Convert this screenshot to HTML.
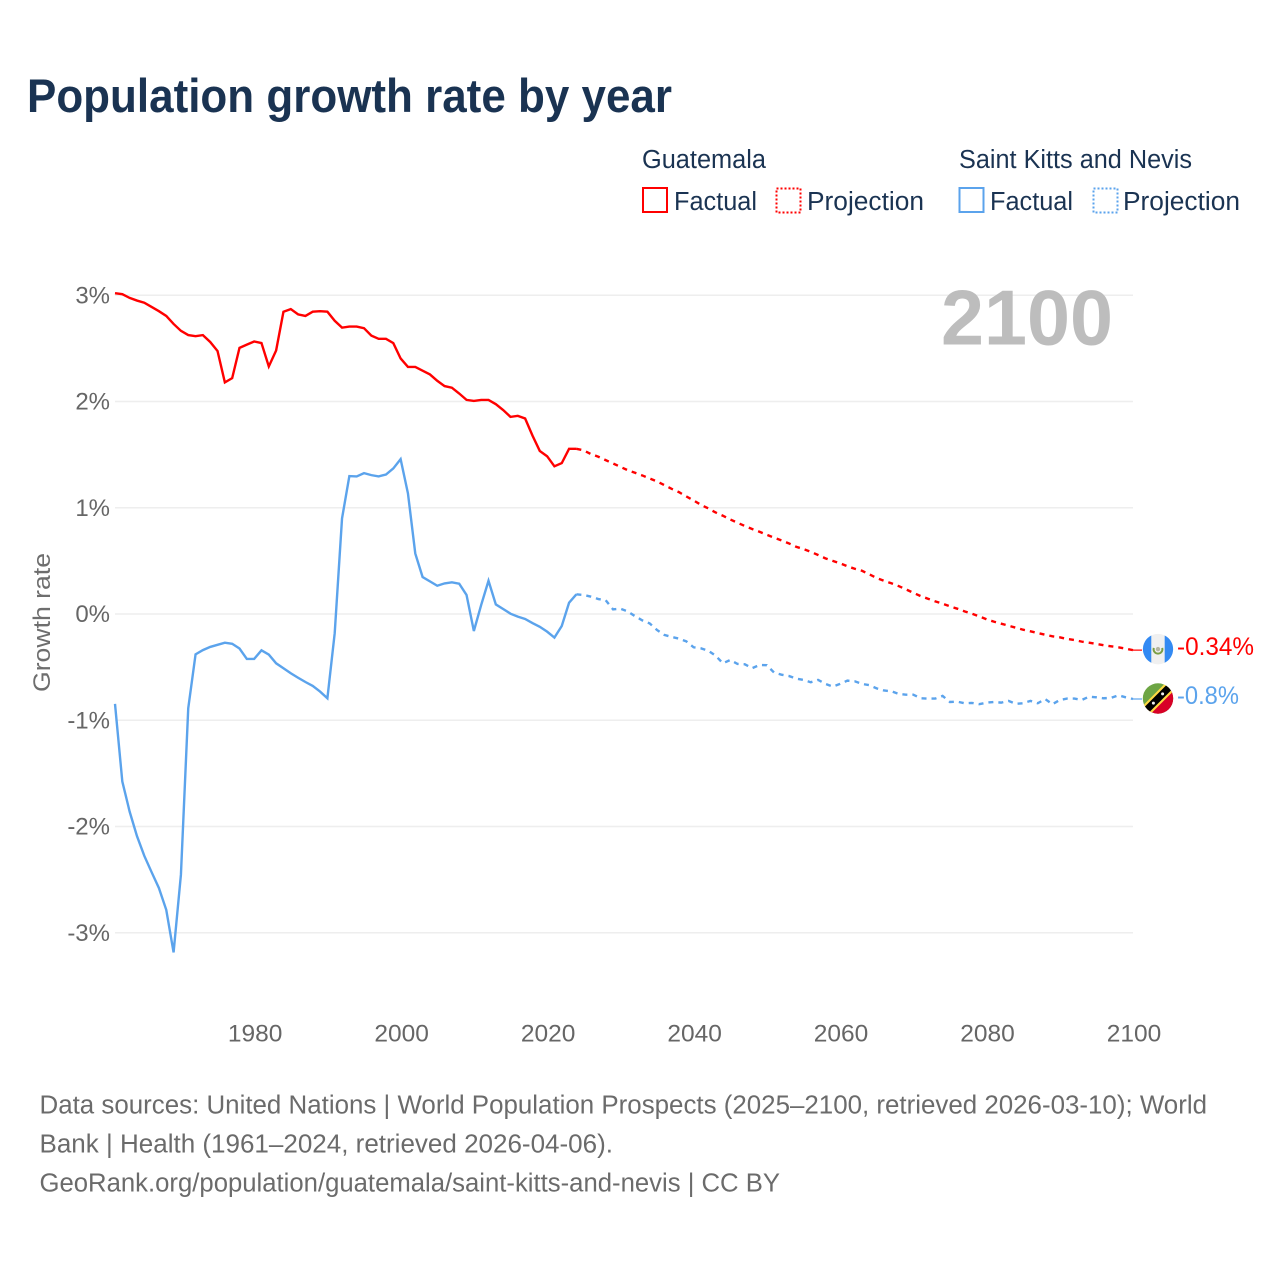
<!DOCTYPE html>
<html lang="en">
<head>
<meta charset="utf-8">
<title>Population growth rate by year</title>
<style>
  html, body { margin: 0; padding: 0; background: #fff; }
  svg { display: block; font-family: "Liberation Sans", sans-serif; }
</style>
</head>
<body>
<svg id="chart" xmlns="http://www.w3.org/2000/svg" width="1280" height="1280" viewBox="0 0 1280 1280">
  <rect x="0" y="0" width="1280" height="1280" fill="#ffffff"/>

  <text x="27" y="112" font-size="47" font-weight="bold" fill="#1a3352" textLength="645" lengthAdjust="spacingAndGlyphs">Population growth rate by year</text>

  <g font-size="25.5" fill="#1a3352">
    <text x="642" y="168" textLength="124" lengthAdjust="spacingAndGlyphs">Guatemala</text>
    <text x="959" y="168" textLength="233" lengthAdjust="spacingAndGlyphs">Saint Kitts and Nevis</text>

    <rect x="643" y="188" width="24" height="24" fill="none" stroke="#ff0000" stroke-width="2"/>
    <text x="674" y="210" textLength="83" lengthAdjust="spacingAndGlyphs">Factual</text>
    <rect x="776.5" y="188.5" width="24" height="24" fill="none" stroke="#ff0000" stroke-width="2" stroke-dasharray="2 2"/>
    <text x="807" y="210" textLength="117" lengthAdjust="spacingAndGlyphs">Projection</text>

    <rect x="959.5" y="188" width="24" height="24" fill="none" stroke="#5ba3ec" stroke-width="2"/>
    <text x="990" y="210" textLength="83" lengthAdjust="spacingAndGlyphs">Factual</text>
    <rect x="1093.5" y="188.5" width="24" height="24" fill="none" stroke="#5ba3ec" stroke-width="2" stroke-dasharray="2 2"/>
    <text x="1123" y="210" textLength="117" lengthAdjust="spacingAndGlyphs">Projection</text>
  </g>

  <g id="grid"></g>

  <text x="941" y="344.5" font-size="78" font-weight="bold" fill="#bdbdbd" textLength="172" lengthAdjust="spacingAndGlyphs">2100</text>

  <g id="y-axis"></g>
  <g id="x-axis"></g>
  <text transform="translate(50,622.5) rotate(-90)" text-anchor="middle" font-size="24.5" fill="#6e6e6e" textLength="139" lengthAdjust="spacingAndGlyphs">Growth rate</text>

  <g id="series"></g>

  <g id="flag-guatemala">
    <circle r="15.2" fill="#f0f0f0"/>
    <path d="M-6.7,-13.6 A15.2,15.2 0 0 0 -6.7,13.6 Z" fill="#338af3"/>
    <path d="M6.7,-13.6 A15.2,15.2 0 0 1 6.7,13.6 Z" fill="#338af3"/>
    <path d="M-4.2,-1.2 A4.4,4.4 0 1 0 4.2,-1.2" fill="none" stroke="#7a9e45" stroke-width="2"/>
    <circle cx="0" cy="0" r="2.2" fill="#b5b5a0"/>
  </g>

  <g id="flag-saint-kitts">
    <clipPath id="kn-clip"><circle r="15.2"/></clipPath>
    <g clip-path="url(#kn-clip)">
      <rect x="-16" y="-16" width="32" height="32" fill="#6da544"/>
      <path d="M16,-16 L16,16 L-16,16 Z" fill="#d80027"/>
      <path d="M-16,8 L8,-16 L16,-16 L16,-8 L-8,16 L-16,16 Z" fill="#ffda44"/>
      <path d="M-16,11 L11,-16 L16,-16 L16,-11 L-11,16 L-16,16 Z" fill="#000000"/>
      <circle cx="-4.6" cy="4.6" r="1.5" fill="#f0f0f0"/>
      <circle cx="4.6" cy="-4.6" r="1.5" fill="#f0f0f0"/>
    </g>
  </g>

  <g id="end-labels"></g>

  <g font-size="25.5" fill="#6b6b6b">
    <text x="39.5" y="1113.5" textLength="1167.5" lengthAdjust="spacingAndGlyphs">Data sources: United Nations | World Population Prospects (2025–2100, retrieved 2026-03-10); World</text>
    <text x="39.5" y="1152.5" textLength="573.5" lengthAdjust="spacingAndGlyphs">Bank | Health (1961–2024, retrieved 2026-04-06).</text>
    <text x="39.5" y="1191.5" textLength="740.5" lengthAdjust="spacingAndGlyphs">GeoRank.org/population/guatemala/saint-kitts-and-nevis | CC BY</text>
  </g>
</svg>

<script>
const firstYear = 1961;
const lastFactualYear = 2024;
const xTicks = [1980, 2000, 2020, 2040, 2060, 2080, 2100];
const yTicks = [3, 2, 1, 0, -1, -2, -3];
const yTickLabels = ['3%', '2%', '1%', '0%', '-1%', '-2%', '-3%'];
const endLabelGuatemala = '-0.34%';
const endLabelSaintKitts = '-0.8%';

const guatemalaFactual = [
  3.02, 3.01, 2.975, 2.95, 2.93, 2.89, 2.85, 2.805, 2.73, 2.665,
  2.625, 2.615, 2.625, 2.56, 2.475, 2.18, 2.22, 2.505, 2.535, 2.565,
  2.55, 2.33, 2.48, 2.845, 2.87, 2.82, 2.805, 2.845, 2.85, 2.845,
  2.76, 2.695, 2.705, 2.705, 2.69, 2.62, 2.59, 2.59, 2.55, 2.405,
  2.325, 2.325, 2.29, 2.255, 2.195, 2.145, 2.13, 2.075, 2.015, 2.005,
  2.015, 2.015, 1.975, 1.92, 1.855, 1.865, 1.84, 1.68, 1.535, 1.485,
  1.39, 1.42, 1.555, 1.555
];
const guatemalaProjection = [
  1.54, 1.505, 1.48, 1.448, 1.417, 1.385, 1.354, 1.329, 1.304, 1.276,
  1.248, 1.213, 1.178, 1.147, 1.107, 1.069, 1.028, 0.994, 0.956, 0.925,
  0.89, 0.859, 0.828, 0.8, 0.774, 0.746, 0.718, 0.693, 0.665, 0.633,
  0.611, 0.586, 0.555, 0.524, 0.5, 0.477, 0.449, 0.426, 0.407, 0.373,
  0.339, 0.313, 0.289, 0.263, 0.232, 0.2, 0.169, 0.144, 0.119, 0.097,
  0.072, 0.05, 0.025, 0.003, -0.022, -0.05, -0.072, -0.091, -0.11, -0.129,
  -0.148, -0.163, -0.179, -0.195, -0.21, -0.219, -0.235, -0.245, -0.26, -0.27,
  -0.282, -0.294, -0.304, -0.313, -0.326, -0.34
];
const saintKittsFactual = [
  -0.846, -1.577, -1.86, -2.09, -2.276, -2.43, -2.58, -2.785, -3.185, -2.455,
  -0.887, -0.38, -0.34, -0.31, -0.29, -0.27, -0.28, -0.325, -0.423, -0.423,
  -0.342, -0.382, -0.464, -0.51, -0.558, -0.6, -0.64, -0.677, -0.73, -0.793,
  -0.18, 0.9, 1.298, 1.295, 1.326, 1.307, 1.295, 1.313, 1.37, 1.458,
  1.135, 0.57, 0.348, 0.307, 0.266, 0.288, 0.298, 0.285, 0.179, -0.16,
  0.085, 0.313, 0.09, 0.047, 0.003, -0.025, -0.047, -0.085, -0.12, -0.166,
  -0.222, -0.113, 0.106, 0.185
];
const saintKittsProjection = [
  0.179, 0.163, 0.141, 0.13, 0.044, 0.05, 0.025, -0.02, -0.06, -0.088,
  -0.15, -0.197, -0.216, -0.232, -0.257, -0.313, -0.323, -0.345, -0.392, -0.464,
  -0.433, -0.47, -0.473, -0.51, -0.48, -0.482, -0.552, -0.571, -0.583, -0.608,
  -0.62, -0.642, -0.62, -0.658, -0.683, -0.658, -0.627, -0.633, -0.658, -0.67,
  -0.7, -0.72, -0.727, -0.752, -0.759, -0.759, -0.793, -0.796, -0.796, -0.771,
  -0.828, -0.825, -0.84, -0.837, -0.849, -0.834, -0.828, -0.834, -0.818, -0.846,
  -0.84, -0.818, -0.84, -0.8, -0.849, -0.809, -0.796, -0.796, -0.809, -0.778,
  -0.784, -0.793, -0.79, -0.765, -0.784, -0.8
];

const NS = 'http://www.w3.org/2000/svg';
const xScale = function (year) { return 115 + (year - firstYear) * 7.3237; };
const yScale = function (value) { return 614 - value * 106.25; };

function make(tag, parent) {
  const el = document.createElementNS(NS, tag);
  parent.appendChild(el);
  return el;
}

function pointsFor(values, startYear) {
  return values.map(function (v, i) {
    return xScale(startYear + i).toFixed(2) + ',' + yScale(v).toFixed(2);
  }).join(' ');
}

const gridGroup = document.getElementById('grid');
const yAxisGroup = document.getElementById('y-axis');
yTicks.forEach(function (t, i) {
  const line = make('line', gridGroup);
  
  
  line.setAttribute('x1', xScale(firstYear));
  line.setAttribute('x2', xScale(2100));
  line.setAttribute('y1', yScale(t));
  line.setAttribute('y2', yScale(t));
  line.setAttribute('stroke', '#eeeeee');
  line.setAttribute('stroke-width', '1.5');

  const label = make('text', yAxisGroup);
  
  
  label.setAttribute('x', 110);
  label.setAttribute('y', yScale(t) + 8);
  label.setAttribute('text-anchor', 'end');
  label.setAttribute('font-size', '24');
  label.setAttribute('fill', '#666666');
  label.textContent = yTickLabels[i];
});

const xAxisGroup = document.getElementById('x-axis');
xTicks.forEach(function (t) {
  const label = make('text', xAxisGroup);
  
  
  label.setAttribute('x', xScale(t) + 1);
  label.setAttribute('y', 1041.5);
  label.setAttribute('text-anchor', 'middle');
  label.setAttribute('font-size', '24.5');
  label.setAttribute('fill', '#666666');
  label.textContent = String(t);
});

const seriesGroup = document.getElementById('series');

const redFactualLine = make('polyline', seriesGroup);


redFactualLine.setAttribute('points', pointsFor(guatemalaFactual, firstYear));
redFactualLine.setAttribute('fill', 'none');
redFactualLine.setAttribute('stroke', '#ff0000');
redFactualLine.setAttribute('stroke-width', '2.4');

const redProjectionValues = [guatemalaFactual[guatemalaFactual.length - 1]].concat(guatemalaProjection);
const redProjectionLine = make('polyline', seriesGroup);


redProjectionLine.setAttribute('points', pointsFor(redProjectionValues, lastFactualYear));
redProjectionLine.setAttribute('fill', 'none');
redProjectionLine.setAttribute('stroke', '#ff0000');
redProjectionLine.setAttribute('stroke-width', '2.4');
redProjectionLine.setAttribute('stroke-dasharray', '5 5');

const blueFactualLine = make('polyline', seriesGroup);


blueFactualLine.setAttribute('points', pointsFor(saintKittsFactual, firstYear));
blueFactualLine.setAttribute('fill', 'none');
blueFactualLine.setAttribute('stroke', '#5ba3ec');
blueFactualLine.setAttribute('stroke-width', '2.4');

const blueProjectionValues = [saintKittsFactual[saintKittsFactual.length - 1]].concat(saintKittsProjection);
const blueProjectionLine = make('polyline', seriesGroup);


blueProjectionLine.setAttribute('points', pointsFor(blueProjectionValues, lastFactualYear));
blueProjectionLine.setAttribute('fill', 'none');
blueProjectionLine.setAttribute('stroke', '#5ba3ec');
blueProjectionLine.setAttribute('stroke-width', '2.4');
blueProjectionLine.setAttribute('stroke-dasharray', '5 5');

const redEndY = yScale(guatemalaProjection[guatemalaProjection.length - 1]);
const blueEndY = yScale(saintKittsProjection[saintKittsProjection.length - 1]);
const endX = xScale(2100);

const redConnector = make('line', seriesGroup);


redConnector.setAttribute('x1', endX);
redConnector.setAttribute('x2', endX + 9);
redConnector.setAttribute('y1', redEndY);
redConnector.setAttribute('y2', redEndY);
redConnector.setAttribute('stroke', '#ff0000');
redConnector.setAttribute('stroke-width', '1.2');

const blueConnector = make('line', seriesGroup);


blueConnector.setAttribute('x1', endX);
blueConnector.setAttribute('x2', endX + 9);
blueConnector.setAttribute('y1', blueEndY);
blueConnector.setAttribute('y2', blueEndY);
blueConnector.setAttribute('stroke', '#5ba3ec');
blueConnector.setAttribute('stroke-width', '1.2');

document.getElementById('flag-guatemala').setAttribute('transform', 'translate(' + (endX + 25) + ',' + (redEndY - 1) + ')');
document.getElementById('flag-saint-kitts').setAttribute('transform', 'translate(' + (endX + 25) + ',' + (blueEndY - 0.5) + ')');

const labelsGroup = document.getElementById('end-labels');

const redLabel = make('text', labelsGroup);


redLabel.setAttribute('x', endX + 44);
redLabel.setAttribute('y', redEndY + 5);
redLabel.setAttribute('font-size', '25');
redLabel.setAttribute('fill', '#ff0000');
redLabel.setAttribute('textLength', '77');
redLabel.setAttribute('lengthAdjust', 'spacingAndGlyphs');
redLabel.textContent = endLabelGuatemala;

const blueLabel = make('text', labelsGroup);


blueLabel.setAttribute('x', endX + 44);
blueLabel.setAttribute('y', blueEndY + 5);
blueLabel.setAttribute('font-size', '25');
blueLabel.setAttribute('fill', '#5ba3ec');
blueLabel.setAttribute('textLength', '62');
blueLabel.setAttribute('lengthAdjust', 'spacingAndGlyphs');
blueLabel.textContent = endLabelSaintKitts;
</script>
</body>
</html>
